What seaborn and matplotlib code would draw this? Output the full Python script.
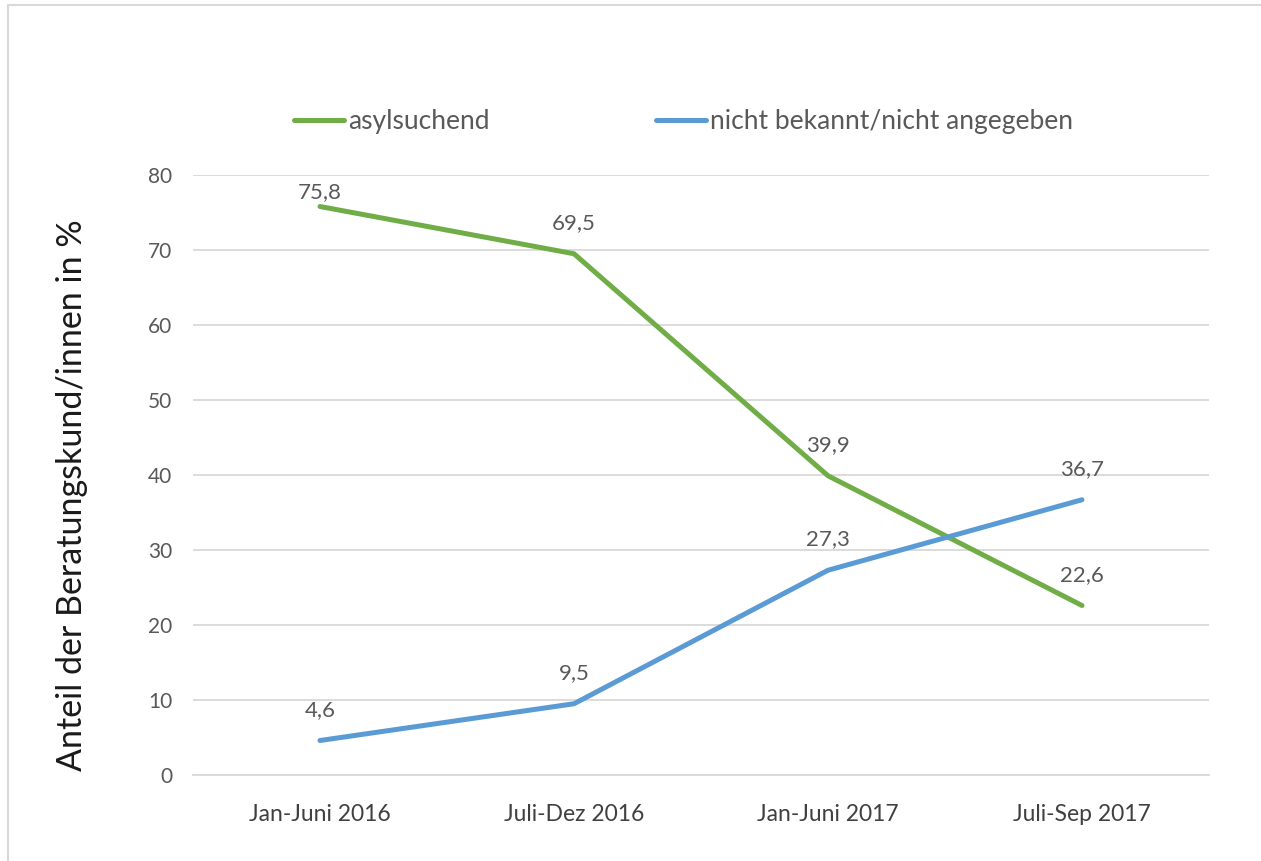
import pandas as pd
import matplotlib
matplotlib.use('Agg')
import matplotlib.pyplot as plt
import seaborn as sns
from matplotlib.patches import Rectangle

# Daten
zeitraeume = ['Jan-Juni 2016', 'Juli-Dez 2016', 'Jan-Juni 2017', 'Juli-Sep 2017']
asylsuchend = [75.8, 69.5, 39.9, 22.6]
nicht_bekannt = [4.6, 9.5, 27.3, 36.7]
serien = ['asylsuchend', 'nicht bekannt/nicht angegeben']
farben = ['#70AD47', '#5B9BD5']

sns.set_style("white")
plt.rcParams['font.family'] = ['Lato', 'DejaVu Sans']

df = pd.DataFrame({
    'Zeitraum': zeitraeume * 2,
    'x': list(range(len(zeitraeume))) * 2,
    'Wert': asylsuchend + nicht_bekannt,
    'Serie': [serien[0]] * 4 + [serien[1]] * 4,
})

fig = plt.figure(figsize=(12.61, 8.61), dpi=100)
ax = fig.add_axes([193 / 1261, 1 - 775 / 861, (1209 - 193) / 1261, 600 / 861])

sns.lineplot(data=df, x='x', y='Wert', hue='Serie', palette=dict(zip(serien, farben)),
             linewidth=3.6, ax=ax, legend=False)
for line in ax.lines:
    line.set_solid_capstyle('round')
    line.set_clip_on(False)

ax.set_xlim(-0.5, len(zeitraeume) - 0.5)
ax.set_ylim(0, 80)
ax.set_yticks(range(0, 81, 10))
ax.set_xticks(range(len(zeitraeume)))
ax.set_xticklabels(zeitraeume)
ax.yaxis.grid(True, color='#D9D9D9', linewidth=1.3)
ax.set_axisbelow(True)
for s in ['top', 'right', 'left']:
    ax.spines[s].set_visible(False)
ax.spines['bottom'].set_color('#D9D9D9')
ax.spines['bottom'].set_linewidth(1.3)
ax.tick_params(axis='x', length=0, labelsize=16.5, colors='#404040', pad=21)
ax.tick_params(axis='y', length=0, labelsize=15, colors='#595959', pad=15)
ax.set_xlabel('')
ax.set_ylabel('Anteil der Beratungskund/innen in %', fontsize=24.5, color='#1a1a1a')
ax.yaxis.set_label_coords(-0.103, 0.467)

# Datenbeschriftungen
for werte in [asylsuchend, nicht_bekannt]:
    for i, v in enumerate(werte):
        y = min(v + 4.1, 77.7)
        ax.text(i, y, f'{v:.1f}'.replace('.', ','), ha='center', va='center',
                fontsize=16, color='#595959')

# Legende
handles = [plt.Line2D([], [], color=c, linewidth=3.6, solid_capstyle='round') for c in farben]
fig.legend(handles, serien, loc='center', bbox_to_anchor=(0.542, 1 - 122 / 861), ncol=2,
           frameon=False, fontsize=19, handlelength=1.9, handletextpad=0.15,
           columnspacing=6.3, labelcolor='#595959')

# Rahmen
fig.patches.append(Rectangle((8 / 1261, -0.1), 1.2, 1.1 - 5 / 861, transform=fig.transFigure,
                             fill=False, edgecolor='#D9D9D9', linewidth=1.5))

fig.savefig('out.png', dpi=100)
